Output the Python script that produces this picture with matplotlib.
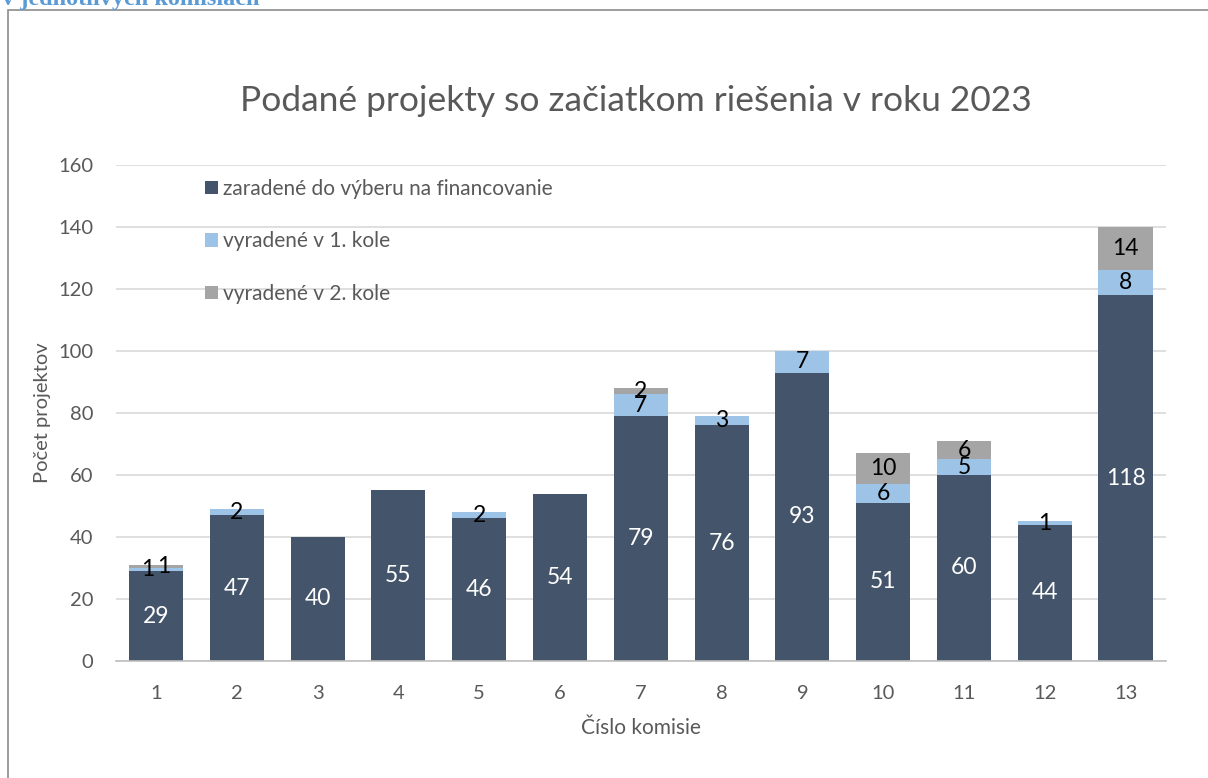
import matplotlib.pyplot as plt
from matplotlib.patches import Rectangle

# data
komisie = ["1", "2", "3", "4", "5", "6", "7", "8", "9", "10", "11", "12", "13"]
zaradene = [29, 47, 40, 55, 46, 54, 79, 76, 93, 51, 60, 44, 118]
vyradene_1 = [1, 2, 0, 0, 2, 0, 7, 3, 7, 6, 5, 1, 8]
vyradene_2 = [1, 0, 0, 0, 0, 0, 2, 0, 0, 10, 6, 0, 14]

c_main = "#44546a"
c_r1 = "#9dc3e6"
c_r2 = "#a5a5a5"
gray_txt = "#595959"

plt.rcParams['font.family'] = ['Lato', 'DejaVu Sans']

fig = plt.figure(figsize=(12.08, 7.78), dpi=100)
ax = fig.add_axes([0.0957, 0.1504, 0.8695, 0.6375])

x = list(range(len(komisie)))
w = 0.67
base2 = [a + b for a, b in zip(zaradene, vyradene_1)]
ax.bar(x, zaradene, w, color=c_main, label="zaradené do výberu na financovanie", zorder=2)
ax.bar(x, vyradene_1, w, bottom=zaradene, color=c_r1, label="vyradené v 1. kole", zorder=2)
ax.bar(x, vyradene_2, w, bottom=base2, color=c_r2, label="vyradené v 2. kole", zorder=2)

# value labels
for i in x:
    ax.text(i, zaradene[i] / 2, str(zaradene[i]), ha="center", va="center",
            color="white", fontsize=16.5, zorder=3)
    dx = 0
    if vyradene_1[i] and vyradene_2[i] and vyradene_1[i] + vyradene_2[i] < 4:
        dx = 0.1  # overlapping small labels, pushed apart
    if vyradene_1[i]:
        ax.text(i - dx, zaradene[i] + vyradene_1[i] / 2, str(vyradene_1[i]),
                ha="center", va="center", color="black", fontsize=16.5, zorder=3)
    if vyradene_2[i]:
        ax.text(i + dx, base2[i] + vyradene_2[i] / 2, str(vyradene_2[i]),
                ha="center", va="center", color="black", fontsize=16.5, zorder=3)

ax.set_xlim(-0.5, len(komisie) - 0.5)
ax.set_ylim(0, 160)
ax.set_yticks(range(0, 161, 20))
ax.set_xticks(x)
ax.set_xticklabels(komisie)
ax.tick_params(length=0, labelsize=14.5, colors=gray_txt)
ax.tick_params(axis="y", pad=16)
ax.tick_params(axis="x", pad=17)
ax.grid(axis="y", color="#d9d9d9", linewidth=1.2, zorder=0)
for s in ["top", "right", "left"]:
    ax.spines[s].set_visible(False)
ax.spines["bottom"].set_color("#bfbfbf")
ax.spines["bottom"].set_linewidth(1.2)

ax.set_xlabel("Číslo komisie", fontsize=15, color=gray_txt, labelpad=12)
ax.set_ylabel("Počet projektov", fontsize=14.5, color=gray_txt, labelpad=5)
fig.text(0.526, 0.87, "Podané projekty so začiatkom riešenia v roku 2023",
         ha="center", va="center", fontsize=25.5, color=gray_txt)

ax.legend(loc="upper left", bbox_to_anchor=(0.067, 1.01), frameon=False,
          fontsize=15, labelspacing=1.56, handlelength=0.65, handleheight=0.65,
          handletextpad=0.25, labelcolor=gray_txt)

# chart frame and the clipped heading above it
fig.patches.append(Rectangle((8 / 1208, -0.05), 1.1, 1 - 10 / 778 + 0.05,
                             transform=fig.transFigure, fill=False,
                             edgecolor="#8c8c8c", linewidth=1.2))
fig.text(2 / 1208, 1 - 5 / 778, "v jednotlivých komisiách", ha="left",
         va="baseline", fontsize=17.5, fontweight="bold", color="#5b9bd5",
         family="Liberation Serif")

fig.savefig("out.png", dpi=100)
